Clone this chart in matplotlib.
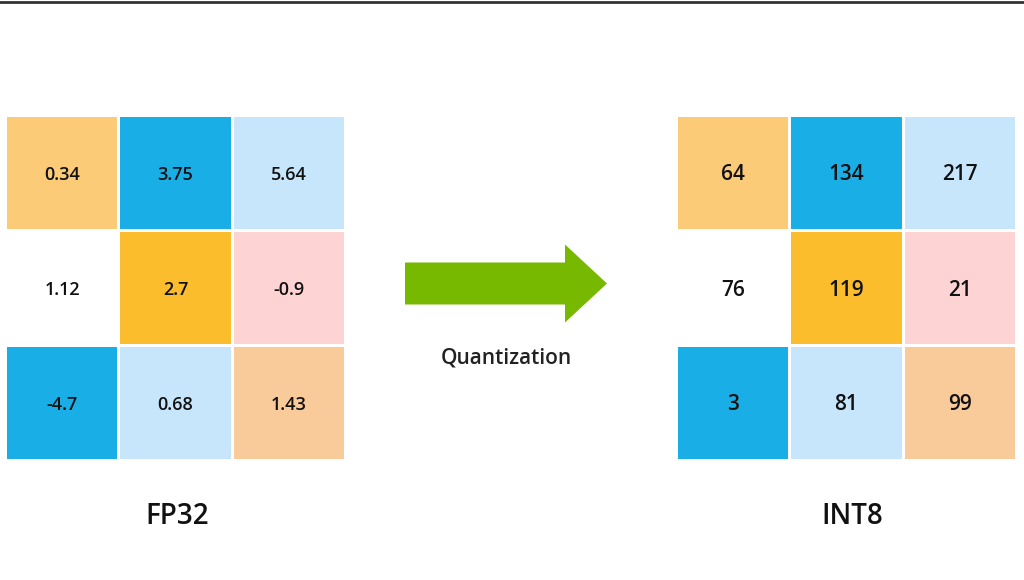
import matplotlib.pyplot as plt
from matplotlib.patches import Rectangle, FancyArrow

fp32_values = [["0.34", "3.75", "5.64"],
               ["1.12", "2.7", "-0.9"],
               ["-4.7", "0.68", "1.43"]]
int8_values = [["64", "134", "217"],
               ["76", "119", "21"],
               ["3", "81", "99"]]
cell_colors = [["#FBCB78", "#1AAEE6", "#C8E6FB"],
               ["#FFFFFF", "#FBBD2C", "#FDD3D3"],
               ["#1AAEE6", "#C8E6FB", "#FACB9A"]]
titles = ["FP32", "INT8"]

plt.rcParams['font.family'] = ['Open Sans', 'DejaVu Sans']

fig = plt.figure(figsize=(10.24, 5.8), dpi=100)
ax = fig.add_axes([0, 0, 1, 1])
ax.set_xlim(0, 1024)
ax.set_ylim(580, 0)
ax.axis("off")

ax.plot([0, 1024], [1.5, 1.5], color="#333333", lw=2)


def draw_grid(x0, values, fs):
    w, h, gap = 113.3, 115, 3
    for r in range(3):
        for c in range(3):
            x = x0 + c * w
            y = 117 + r * h
            ax.add_patch(Rectangle((x, y), w - gap, h - gap, color=cell_colors[r][c], lw=0))
            ax.text(x + (w - gap) / 2, y + (h - gap) / 2 + 2, values[r][c],
                    ha="center", va="center", fontsize=fs, color="#111111",
                    fontweight="semibold")


draw_grid(7, fp32_values, 13)
draw_grid(678, int8_values, 15)

ax.text(177, 516, titles[0], ha="center", va="center", fontsize=20, color="#111111",
        fontweight="semibold")
ax.text(852, 516, titles[1], ha="center", va="center", fontsize=20, color="#111111",
        fontweight="semibold")

ax.add_patch(FancyArrow(405, 283.5, 202, 0, width=42, head_width=78, head_length=42,
                        length_includes_head=True, color="#76B900", lw=0))
ax.text(506, 358, "Quantization", ha="center", va="center", fontsize=15, color="#222222",
        fontweight="semibold")

fig.savefig("out.png", dpi=100)
